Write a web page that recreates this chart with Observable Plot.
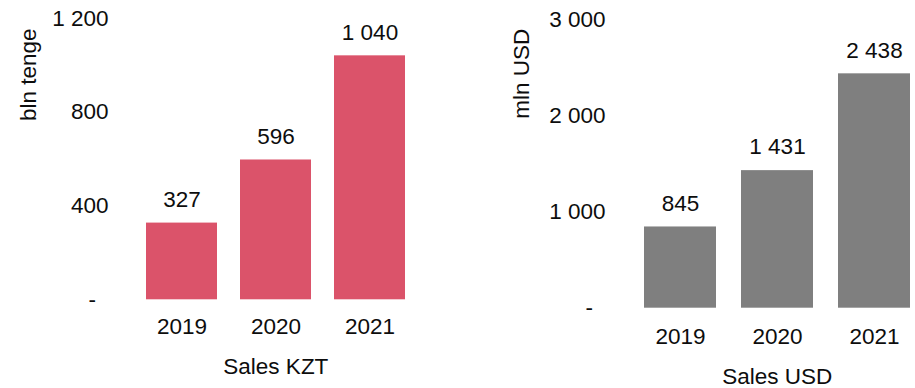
<!DOCTYPE html>
<html>
<head>
<meta charset="utf-8">
<script src="https://cdn.jsdelivr.net/npm/d3@7"></script>
<script src="https://cdn.jsdelivr.net/npm/@observablehq/plot@0.6"></script>
<style>
  html, body { margin: 0; padding: 0; background: #fff; }
  #wrap { position: relative; width: 915px; height: 388px; overflow: hidden; }
  #wrap > div { position: absolute; top: 0; }
  svg { overflow: visible; }
</style>
</head>
<body>
<div id="wrap"><div id="left"></div><div id="right"></div></div>
<script>
const years = ["2019", "2020", "2021"];
const salesKZT = [327, 596, 1040];
const salesUSD = [845, 1431, 2438];
const kztTicks = [0, 400, 800, 1200];
const usdTicks = [0, 1000, 2000, 3000];
const kztAxisTitle = "bln tenge";
const usdAxisTitle = "mln USD";
const kztTitle = "Sales KZT";
const usdTitle = "Sales USD";

const FONT = "'Liberation Sans', Arial, sans-serif";
const FS = 22.5;
const TEXT = "#0d0d0d";
const locale = d3.formatLocale({decimal: ",", thousands: "\u00a0", grouping: [3], currency: ["", ""]});
const fmt = locale.format(",d");
const tickFmt = v => v === 0 ? "-\u00a0\u00a0" : fmt(v);

function panel(opts) {
  const data = years.map((y, i) => ({year: y, value: opts.values[i]}));
  return Plot.plot({
    width: opts.width,
    height: 388,
    marginLeft: opts.ml,
    marginRight: opts.mr,
    marginTop: opts.mt,
    marginBottom: opts.mb,
    style: {fontFamily: FONT, fontSize: FS + "px", color: TEXT, background: "transparent", overflow: "visible"},
    x: {type: "band", domain: years, paddingInner: opts.pi, paddingOuter: 0},
    y: {domain: [0, opts.ticks[opts.ticks.length - 1]]},
    marks: [
      Plot.barY(data, {x: "year", y: "value", fill: opts.color}),
      Plot.text(data, {x: "year", y: "value", text: d => fmt(d.value), dy: -23.5, lineAnchor: "middle", fontSize: FS, fill: TEXT}),
      Plot.axisY({ticks: opts.ticks, tickSize: 0, tickPadding: opts.ytp, tickFormat: tickFmt, label: null, fontSize: FS, fill: TEXT}),
      Plot.axisX({tickSize: 0, tickPadding: opts.xtp, label: null, fontSize: FS, fill: TEXT}),
      Plot.text([opts.ytitle], {frameAnchor: "top-left", rotate: -90, textAnchor: "end", lineAnchor: "middle", dx: opts.ylx, dy: opts.yly, fontSize: FS, fill: TEXT}),
      Plot.text([opts.xtitle], {frameAnchor: "bottom", lineAnchor: "middle", dy: opts.xly, fontSize: FS, fill: TEXT})
    ]
  });
}

const left = panel({
  values: salesKZT, ticks: kztTicks, color: "#db536a",
  width: 455, ml: 146, mr: 50.3, mt: 17.8, mb: 88.7, pi: 0.25,
  ytp: 38, xtp: 18, ytitle: kztAxisTitle, xtitle: kztTitle,
  ylx: -118, yly: 10.2, xly: 67.4
});
const right = panel({
  values: salesUSD, ticks: usdTicks, color: "#7f7f7f",
  width: 460, ml: 188.3, mr: 4.7, mt: 19.3, mb: 80.3, pi: 0.26,
  ytp: 38.3, xtp: 19.4, ytitle: usdAxisTitle, xtitle: usdTitle,
  ylx: -121.6, yly: 9, xly: 68.3
});
const L = document.getElementById("left");
L.style.left = "0px";
L.appendChild(left);
const R = document.getElementById("right");
R.style.left = "455px";
R.appendChild(right);
</script>
</body>
</html>
